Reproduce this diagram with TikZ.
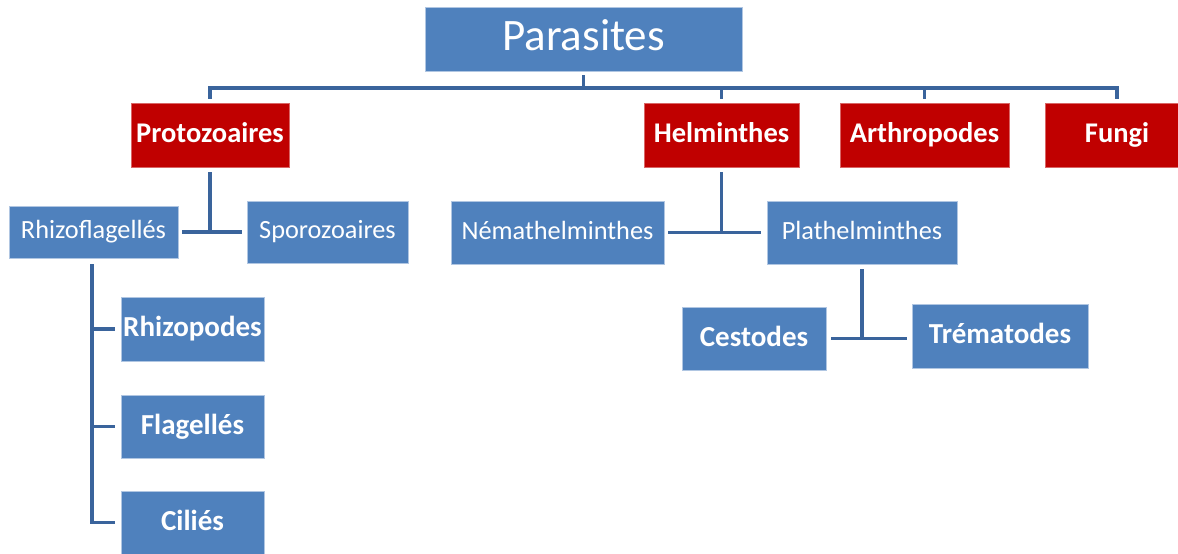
\documentclass[tikz,border=0pt]{standalone}
\usepackage{fontspec}
\setmainfont{Carlito}
\usepackage{tikz}
\definecolor{boxblue}{RGB}{79,129,189}
\definecolor{boxred}{RGB}{192,0,0}
\definecolor{linkblue}{RGB}{58,100,156}
\definecolor{rimblue}{RGB}{176,198,226}
\colorlet{rimred}{boxred!60!white}

\begin{document}
\begin{tikzpicture}[x=1pt,y=-1pt,
  box/.style={rectangle,inner sep=0pt,text=white,fill=boxblue,draw=rimblue,line width=0.8pt,execute at begin node={\vphantom{lg}}},
  root/.style={box,font=\fontsize{45pt}{48pt}\selectfont},
  group/.style={box,fill=boxred,draw=rimred,font=\fontsize{28.5pt}{30pt}\selectfont\bfseries},
  branch/.style={box,font=\fontsize{26.3pt}{28pt}\selectfont},
  leaf/.style={box,font=\fontsize{29pt}{30pt}\selectfont\bfseries},
  link/.style={draw=linkblue,line width=3.5pt}]
\useasboundingbox (0,0) rectangle (1178,554);
\node[root,minimum width=317pt,minimum height=64pt] (parasites) at (583.5,39) {Parasites};
\node[group,minimum width=158pt,minimum height=64pt] (protozoaires) at (210,135) {Protozoaires};
\node[group,minimum width=155pt,minimum height=64pt] (helminthes) at (721.5,135) {Helminthes};
\node[group,minimum width=169pt,minimum height=64pt] (arthropodes) at (924.5,135) {Arthropodes};
\node[group,minimum width=144pt,minimum height=64pt] (fungi) at (1117,135) {Fungi};
\node[branch,minimum width=169pt,minimum height=52pt] (rhizoflagelles) at (93.5,232) {Rhizoflagellés};
\node[branch,minimum width=161pt,minimum height=62pt] (sporozoaires) at (327.5,232) {Sporozoaires};
\node[branch,minimum width=213pt,minimum height=63pt] (nemathelminthes) at (557.5,232.5) {Némathelminthes};
\node[branch,minimum width=190pt,minimum height=63pt] (plathelminthes) at (862,232.5) {Plathelminthes};
\node[leaf,minimum width=144pt,minimum height=63pt] (cestodes) at (754,338.5) {Cestodes};
\node[leaf,minimum width=176pt,minimum height=64pt] (trematodes) at (1000,336) {Trématodes};
\node[leaf,minimum width=143pt,minimum height=64pt] (rhizopodes) at (192.5,329) {Rhizopodes};
\node[leaf,minimum width=143pt,minimum height=63pt] (flagelles) at (192.5,426.5) {Flagellés};
\node[leaf,minimum width=143pt,minimum height=63pt] (cilies) at (192.5,522.5) {Ciliés};
\coordinate (bus) at (0,88);
\draw[link] ([yshift=-4pt]parasites.south) -- (parasites.south |- bus);
\draw[link] ([xshift=-1.75pt]protozoaires.north |- bus) -- ([xshift=1.75pt]fungi.north |- bus);
\foreach \n in {protozoaires,helminthes,arthropodes,fungi}
  \draw[link] (\n.north |- bus) -- ([yshift=4pt]\n.north);
\draw[link] ([yshift=-5pt]protozoaires.south) -- (protozoaires.south |- rhizoflagelles);
\draw[link] ([xshift=4pt]rhizoflagelles.east) -- ([xshift=-5pt]sporozoaires.west |- rhizoflagelles);
\draw[link] ([yshift=-5pt]helminthes.south) -- (helminthes.south |- nemathelminthes);
\draw[link] ([xshift=4pt]nemathelminthes.east) -- ([xshift=-6pt]plathelminthes.west);
\draw[link] ([yshift=-5pt]plathelminthes.south) -- (plathelminthes.south |- cestodes);
\draw[link] ([xshift=5pt]cestodes.east) -- ([xshift=-5pt]trematodes.west |- cestodes);
\draw[link] ([xshift=-1.5pt,yshift=-6pt]rhizoflagelles.south) |- ([xshift=-6pt]cilies.west);
\draw[link] ([xshift=-1.5pt]rhizoflagelles.south |- rhizopodes) -- ([xshift=-6pt]rhizopodes.west);
\draw[link] ([xshift=-1.5pt]rhizoflagelles.south |- flagelles) -- ([xshift=-6pt]flagelles.west);
\end{tikzpicture}
\end{document}
